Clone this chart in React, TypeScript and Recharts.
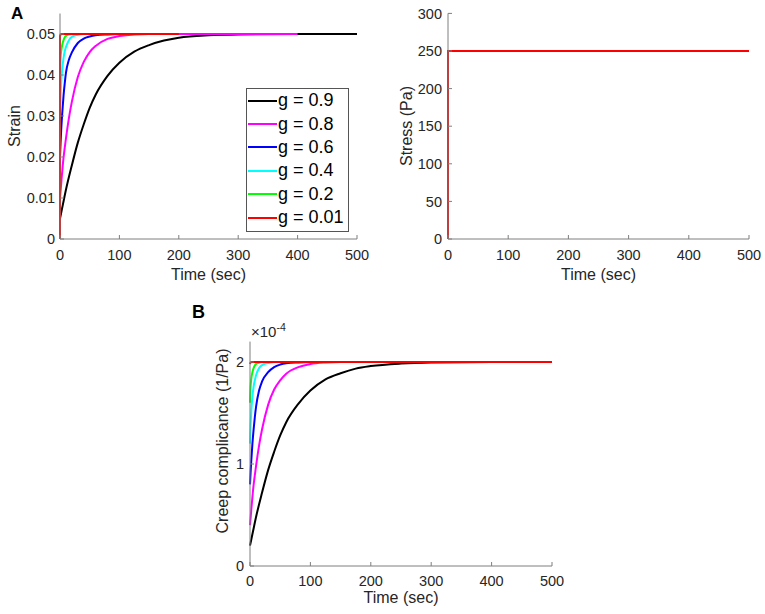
import { LineChart, Line, XAxis, YAxis, Legend, Label } from 'recharts';

const timeTicks = [0, 100, 200, 300, 400, 500];
const strainTicks = [0, 0.01, 0.02, 0.03, 0.04, 0.05];
const stressTicks = [0, 50, 100, 150, 200, 250, 300];
const complianceTicks = [0, 1, 2];

const gLabels = ['g = 0.9', 'g = 0.8', 'g = 0.6', 'g = 0.4', 'g = 0.2', 'g = 0.01'];
const gColors = ['#000000', '#ff00ff', '#0000ff', '#00ffff', '#00ff00', '#ff0000'];

// panel A (left): strain vs time
const blackT = [0, 5, 10, 20, 30, 40, 50, 60, 80, 100, 125, 150, 175, 200, 250, 300, 400, 500];
const blackStrain = [0.005, 0.0085, 0.012, 0.018, 0.0235, 0.028, 0.032, 0.0352, 0.0398, 0.043, 0.0457, 0.0473, 0.0484, 0.0491, 0.0497, 0.0499, 0.05, 0.05];
const magentaT = [0, 2, 5, 10, 15, 20, 30, 40, 50, 60, 80, 100, 125, 150, 200, 300, 400];
const magentaStrain = [0.01, 0.0135, 0.0185, 0.0245, 0.0295, 0.0335, 0.0395, 0.0432, 0.0456, 0.0471, 0.0488, 0.0495, 0.0499, 0.05, 0.05, 0.05, 0.05];
const blueT = [0, 1, 2, 4, 6, 8, 10, 15, 20, 30, 40, 50, 60, 80, 100];
const blueStrain = [0.02, 0.0235, 0.0265, 0.0312, 0.035, 0.038, 0.0405, 0.0437, 0.0455, 0.0478, 0.0489, 0.0494, 0.0497, 0.0499, 0.05];
const cyanT = [0, 1, 2, 4, 6, 8, 10, 15, 20, 30, 40];
const cyanStrain = [0.03, 0.035, 0.038, 0.0418, 0.0442, 0.0458, 0.0468, 0.0485, 0.0493, 0.0498, 0.05];
const greenT = [0, 1, 2, 4, 6, 8, 10, 15, 20];
const greenStrain = [0.04, 0.0442, 0.0458, 0.0475, 0.0485, 0.0492, 0.0495, 0.0499, 0.05];
const redT = [0, 0, 1, 3, 200];
const redStrain = [0, 0.0495, 0.0499, 0.05, 0.05];

// panel A (right): applied stress
const stressT = [0, 0, 500];
const stressPa = [0, 250, 250];

// panel B: creep compliance, in units of 1e-4 1/Pa
const blackCompT = [0, 5, 10, 20, 30, 40, 50, 60, 80, 100, 125, 150, 175, 200, 250, 300, 400, 500];
const blackComp = [0.2, 0.34, 0.48, 0.72, 0.94, 1.12, 1.28, 1.41, 1.59, 1.72, 1.83, 1.89, 1.935, 1.96, 1.985, 1.995, 2, 2];
const magentaCompT = [0, 2, 5, 10, 15, 20, 30, 40, 50, 60, 80, 100, 125, 150, 200];
const magentaComp = [0.4, 0.54, 0.74, 0.98, 1.18, 1.34, 1.58, 1.73, 1.82, 1.885, 1.95, 1.98, 1.995, 2, 2];
const blueCompT = [0, 1, 2, 4, 6, 8, 10, 15, 20, 30, 40, 50, 60, 80, 100];
const blueComp = [0.8, 0.92, 1.02, 1.2, 1.34, 1.46, 1.56, 1.72, 1.81, 1.9, 1.95, 1.975, 1.988, 1.996, 2];
const cyanCompT = [0, 1, 2, 4, 6, 8, 10, 15, 20, 30, 40];
const cyanComp = [1.2, 1.38, 1.5, 1.66, 1.76, 1.82, 1.87, 1.94, 1.97, 1.99, 2];
const greenCompT = [0, 1, 2, 4, 6, 8, 10, 15, 20];
const greenComp = [1.6, 1.76, 1.83, 1.9, 1.94, 1.965, 1.98, 1.995, 2];
const redCompT = [0, 1, 3, 500];
const redComp = [1.98, 1.995, 2, 2];

const pts = (ts: number[], vs: number[]) => ts.map((t, i) => ({ t, v: vs[i] }));

const strainSeries = [
  pts(blackT, blackStrain),
  pts(magentaT, magentaStrain),
  pts(blueT, blueStrain),
  pts(cyanT, cyanStrain),
  pts(greenT, greenStrain),
  pts(redT, redStrain),
];
const compSeries = [
  pts(blackCompT, blackComp),
  pts(magentaCompT, magentaComp),
  pts(blueCompT, blueComp),
  pts(cyanCompT, cyanComp),
  pts(greenCompT, greenComp),
  pts(redCompT, redComp),
];

const AXIS = '#7f7f7f';
const TXT = '#262626';
const tickStyle = { fill: TXT, fontSize: 14.5 };

// axis titles drawn at fixed spots in each chart's svg
const title = (text: string, x: number, y: number, vertical = false) => () => (
  <text
    x={x}
    y={y}
    textAnchor="middle"
    fontSize={16}
    fill={TXT}
    transform={vertical ? `rotate(-90 ${x} ${y})` : undefined}
  >
    {text}
  </text>
);

const GLegend = () => (
  <div
    style={{
      width: 103,
      height: 144,
      border: '1px solid #555',
      background: '#fff',
      boxSizing: 'border-box',
      paddingLeft: 1,
    }}
  >
    {gLabels.map((l, i) => (
      <div key={l} style={{ display: 'flex', alignItems: 'center', height: 23.4, fontSize: 18, color: '#000' }}>
        <span style={{ display: 'inline-block', width: 29, height: 2, background: gColors[i], marginRight: 1 }} />
        {l}
      </div>
    ))}
  </div>
);

export default function App() {
  return (
    <div
      style={{
        position: 'absolute',
        left: 0,
        top: 0,
        width: 765,
        height: 614,
        background: '#fff',
        fontFamily: '"Liberation Sans", Arial, sans-serif',
      }}
    >
      <div style={{ position: 'absolute', left: 11, top: 4, fontSize: 17, fontWeight: 700 }}>A</div>
      <div style={{ position: 'absolute', left: 192, top: 302, fontSize: 18, fontWeight: 700 }}>B</div>

      {/* A: strain */}
      <div style={{ position: 'absolute', left: 0, top: 0 }}>
        <LineChart width={370} height={300} margin={{ top: 13.5, right: 13, bottom: 0, left: 0 }}>
          <XAxis
            dataKey="t"
            type="number"
            domain={[0, 500]}
            ticks={timeTicks}
            height={61}
            stroke={AXIS}
            tickSize={-4}
            tickMargin={15}
            tick={tickStyle}
          >
            <Label content={title('Time (sec)', 208.5, 280)} />
          </XAxis>
          <YAxis
            type="number"
            domain={[0, 0.055]}
            ticks={strainTicks}
            width={60}
            stroke={AXIS}
            tickSize={-4}
            tickMargin={9}
            tick={tickStyle}
          >
            <Label content={title('Strain', 20, 126, true)} />
          </YAxis>
          {strainSeries.map((d, i) => (
            <Line
              key={gLabels[i]}
              data={d}
              dataKey="v"
              name={gLabels[i]}
              stroke={gColors[i]}
              strokeWidth={2}
              type={i === 5 ? 'linear' : 'monotone'}
              dot={false}
              activeDot={false}
              isAnimationActive={false}
            />
          ))}
          <Legend
            layout="vertical"
            align="center"
            verticalAlign="middle"
            content={GLegend}
            wrapperStyle={{ left: 246, top: 88, width: 103, height: 144 }}
          />
        </LineChart>
      </div>

      {/* A: stress */}
      <div style={{ position: 'absolute', left: 380, top: 0 }}>
        <LineChart width={385} height={300} margin={{ top: 13.4, right: 16, bottom: 0, left: 0 }}>
          <XAxis
            dataKey="t"
            type="number"
            domain={[0, 500]}
            ticks={timeTicks}
            height={61}
            stroke={AXIS}
            tickSize={-4}
            tickMargin={15}
            tick={tickStyle}
          >
            <Label content={title('Time (sec)', 218.5, 280)} />
          </XAxis>
          <YAxis
            type="number"
            domain={[0, 300]}
            ticks={stressTicks}
            width={68}
            stroke={AXIS}
            tickSize={-4}
            tickMargin={10}
            tick={tickStyle}
          >
            <Label content={title('Stress (Pa)', 32, 126, true)} />
          </YAxis>
          <Line
            data={pts(stressT, stressPa)}
            dataKey="v"
            stroke="#ff0000"
            strokeWidth={2}
            type="linear"
            dot={false}
            activeDot={false}
            isAnimationActive={false}
          />
        </LineChart>
      </div>

      {/* B: creep compliance */}
      <div style={{ position: 'absolute', left: 190, top: 300 }}>
        <LineChart width={380} height={314} margin={{ top: 41.6, right: 18, bottom: 0, left: 0 }}>
          <XAxis
            dataKey="t"
            type="number"
            domain={[0, 500]}
            ticks={timeTicks}
            height={48}
            stroke={AXIS}
            tickSize={-4}
            tickMargin={14}
            tick={tickStyle}
          >
            <Label content={title('Time (sec)', 211, 303)} />
          </XAxis>
          <YAxis
            type="number"
            domain={[0, 2.2]}
            ticks={complianceTicks}
            width={60}
            stroke={AXIS}
            tickSize={-4}
            tickMargin={10}
            tick={tickStyle}
          >
            <Label content={title('Creep complicance (1/Pa)', 38, 141, true)} />
            <Label
              content={() => (
                <text x={61} y={37} fontSize={15} fill={TXT}>
                  ×10
                  <tspan dy={-6} fontSize={10.5}>
                    -4
                  </tspan>
                </text>
              )}
            />
          </YAxis>
          {compSeries.map((d, i) => (
            <Line
              key={gLabels[i]}
              data={d}
              dataKey="v"
              name={gLabels[i]}
              stroke={gColors[i]}
              strokeWidth={2}
              type="monotone"
              dot={false}
              activeDot={false}
              isAnimationActive={false}
            />
          ))}
        </LineChart>
      </div>
    </div>
  );
}
